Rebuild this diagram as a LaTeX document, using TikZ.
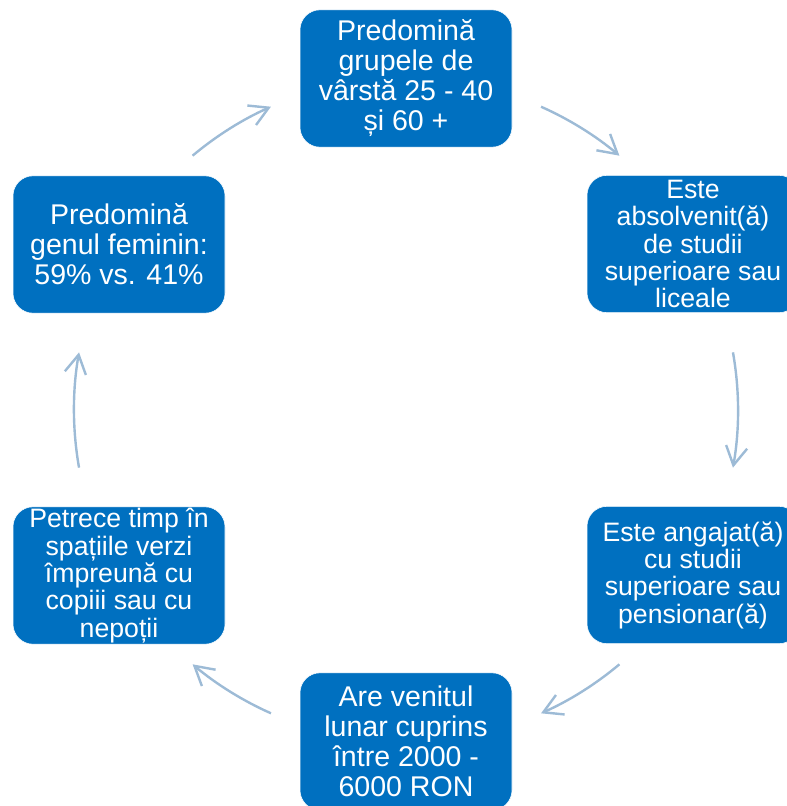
\documentclass[tikz,border=0pt]{standalone}
\usepackage{fontspec}
\setmainfont{Liberation Sans}
\usetikzlibrary{arrows.meta}
\definecolor{boxblue}{RGB}{0,112,192}
\definecolor{flowblue}{RGB}{157,187,214}
\tikzset{every picture/.style={line width=0.75pt}}
\tikzset{
  blk/.style={draw=white, line width=0.4pt, fill=boxblue, text=white, rounded corners=15pt,
    minimum width=159pt, minimum height=103pt, inner sep=0pt, align=center},
  bigtxt/.style={font=\fontsize{21.4}{22.5}\selectfont},
  smalltxt/.style={font=\fontsize{20}{20.5}\selectfont},
  flow/.style={draw=flowblue, line width=1.8pt, -{Straight Barb[length=14pt,width=16pt]}}
}
\begin{document}
\begin{tikzpicture}[x=0.75pt,y=0.75pt,yscale=-1,xscale=1]
    \useasboundingbox (0,0) rectangle (786,806);
    \coordinate (ring) at (406,410);

    % Text Node
    \node [blk, bigtxt] (top) at (406,78.5) {Predomină\\grupele de\\vârstă 25 - 40\\și 60 +};
    % Text Node
    \node [blk, smalltxt] (rtop) at (693,244) {Este\\absolvenit(ă)\\de studii\\superioare sau\\liceale};
    % Text Node
    \node [blk, smalltxt] (rbot) at (693,575) {Este angajat(ă)\\cu studii\\superioare sau\\pensionar(ă)};
    % Text Node
    \node [blk, bigtxt] (bot) at (406,741.5) {Are venitul\\lunar cuprins\\între 2000 -\\6000 RON};
    % Text Node
    \node [blk, smalltxt] (lbot) at (119,575.5) {Petrece timp în\\spațiile verzi\\împreună cu\\copiii sau cu\\nepoții};
    % Text Node
    \node [blk, bigtxt] (ltop) at (119,244.5) {Predomină\\genul feminin:\\59\% vs. 41\%};

    % Connection
    \foreach \a/\b in {-66/-50, -10/10, 50/66, 114/130, 170/190, 230/246}
      \draw [flow] ([shift={(\a:332)}]ring) arc [start angle=\a, end angle=\b, radius=332];
\end{tikzpicture}
\end{document}
